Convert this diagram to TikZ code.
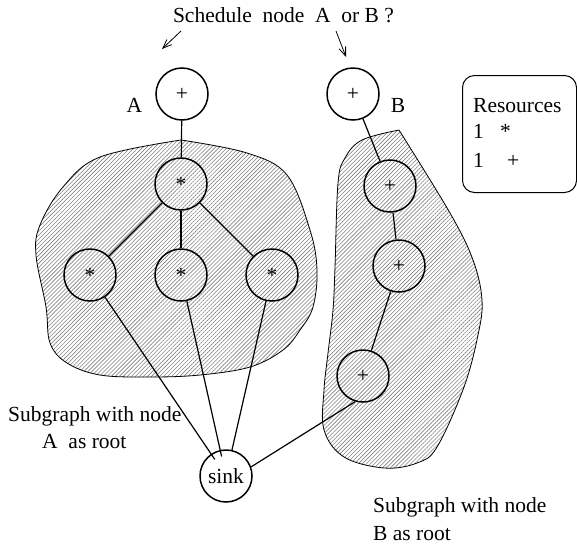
\documentclass[tikz,border=0pt]{standalone}
\usepackage{fontspec}
\setmainfont{Liberation Serif}
\usetikzlibrary{arrows.meta,patterns.meta}

\tikzset{
  txt/.style={font=\fontsize{21.5}{26}\selectfont, inner sep=0pt},
  op/.style={circle, draw, line width=1.5pt, minimum size=52pt, inner sep=0pt,
             font=\fontsize{21.5}{26}\selectfont},
  edge/.style={line width=1.2pt},
  region/.style={draw, line width=0.8pt,
                 pattern={Lines[angle=45,distance=2.85pt,line width=0.6pt]},
                 pattern color=black!50},
  pointer/.style={line width=0.8pt, -{Straight Barb[length=9pt,width=7pt,line width=0.8pt]}},
  resbox/.style={draw, line width=1pt, rounded corners=12pt}
}

\begin{document}
\begin{tikzpicture}[x=1pt, y=-1pt]
\useasboundingbox (0,0) rectangle (577,544);

% hatched regions of the two subgraphs
\path[region] plot[smooth, tension=0.6] coordinates {
  (181,140) (247,153) (287,175) (310,230) (317,270) (313,307) (300,330)
  (283,350) (250,367) (200,375) (150,377) (100,375) (67,363) (50,343)
  (46,307) (36,255) (40,225) (63,187) (100,157) (181,140)};
\path[region] plot[smooth, tension=0.6] coordinates {
  (399,130) (450,213) (473,260) (482,300) (478,335) (464,387) (437,447)
  (417,463) (384,468) (344,457) (324,430) (324,390) (328,353) (333,310)
  (335,267) (338,183) (345,158) (362,140) (399,130)};

% operation nodes
\node[op] (A)    at (182,94)  {+};
\node[op] (B)    at (353,94)  {+};
\node[op] (T)    at (181,184) {*};
\node[op] (L)    at (90,275)  {*};
\node[op] (M)    at (181,275) {*};
\node[op] (R)    at (272,275) {*};
\node[op] (P1)   at (390,186) {+};
\node[op] (P2)   at (399,266) {+};
\node[op] (P3)   at (363,376) {+};
\node[op] (sink) at (226,476) {sink};

% dependence edges
\draw[edge] (A) -- (T);
\draw[edge] (T) -- (L);
\draw[edge] (T) -- (M);
\draw[edge] (T) -- (R);
\draw[edge, shorten >=20pt] (L) -- (sink.center);
\draw[edge, shorten >=20pt] (M) -- (sink.center);
\draw[edge] (R) -- (sink);
\draw[edge] (B) -- (P1);
\draw[edge] (P1) -- (P2);
\draw[edge] (P2) -- (P3);
\draw[edge] (P3.253) -- (sink.20);

% labels
\node[txt, anchor=base] (title) at (283.5,22) {Schedule\ \ node\ \ A\ \ or B ?};
\node[txt, anchor=base] (labA) at (134.5,112) {A};
\node[txt, anchor=base] (labB) at (398,112) {B};

\coordinate (ta) at (181,31);
\coordinate (ha) at (162,49);
\coordinate (tb) at (336,31);
\coordinate (hb) at (346,57);
\draw[pointer] (ta) -- (ha);
\draw[pointer] (tb) -- (hb);

% resources box
\node[resbox, minimum width=114pt, minimum height=117pt, anchor=north west] (res) at (462,75) {};
\node[txt, anchor=base west] (resT) at (473,112) {Resources};
\node[txt, anchor=base west] (r1n) at (473,138) {1};
\node[txt, anchor=base west] (r1s) at (500,138) {*};
\node[txt, anchor=base west] (r2n) at (473,167) {1};
\node[txt, anchor=base west] (r2s) at (507,167) {+};

% subgraph captions
\node[txt, anchor=base west] (capA1) at (8,421) {Subgraph with node};
\node[txt, anchor=base west] (capA2) at (42,448) {A\ \ as root};
\node[txt, anchor=base west] (capB1) at (373,512) {Subgraph with node};
\node[txt, anchor=base west] (capB2) at (373,540) {B as root};
\end{tikzpicture}
\end{document}
